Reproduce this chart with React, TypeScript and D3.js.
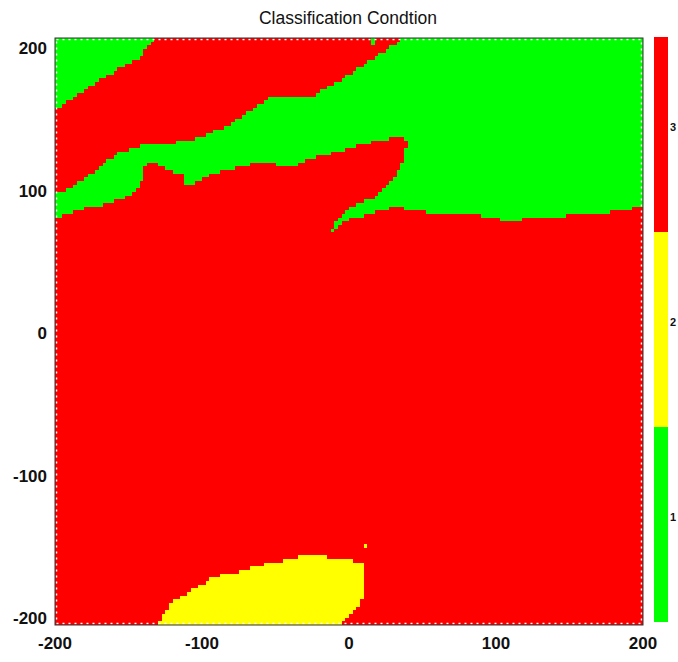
import { useMemo } from "react";
import * as d3 from "d3";

// class codes shown on the colorbar, bottom to top
const classes = [1, 2, 3];
const classColors = ["#00ff00", "#ffff00", "#ff0000"];
const xTicks = [-200, -100, 0, 100, 200];
const yTicks = [-200, -100, 0, 100, 200];

// background class of the whole field, and the grid step of the map (data units)
const baseClass = 3;
const cellSize = 2.5;

// region outlines in data units [x, y]
const greenCorner: [number, number][] = [
  [-200, 200], [-131, 200], [-141, 189], [-142, 186], [-158, 178],
  [-176, 167], [-190, 157], [-195, 154], [-200, 152],
];

const greenBand: [number, number][] = [
  [35, 200], [200, 200], [200, 86], [191, 83], [176, 81], [152, 79],
  [130, 78], [108, 75], [89, 79], [76, 81], [69, 79], [55, 81], [44, 82],
  [33, 85], [21, 82], [10, 79], [1, 77], [-6, 73], [-11, 68], [-15, 64],
  [-11, 71], [-6, 78], [1, 84], [9, 88], [18, 92], [24, 97], [30, 103],
  [33, 109], [37, 117], [40, 129], [36, 133], [26, 131], [21, 130],
  [5, 126], [-6, 123], [-22, 119], [-35, 114], [-40, 112], [-61, 116],
  [-74, 112], [-86, 109], [-99, 105], [-106, 100], [-112, 99], [-113, 107],
  [-120, 109], [-129, 113], [-137, 116], [-140, 112], [-141, 103],
  [-144, 96], [-151, 92], [-163, 87], [-178, 85], [-190, 80], [-200, 77],
  [-200, 94], [-195, 95], [-181, 103], [-169, 112], [-158, 121],
  [-144, 126], [-124, 128], [-108, 130], [-90, 137], [-81, 141],
  [-67, 150], [-61, 154], [-52, 160], [-22, 160], [-20, 164], [1, 175],
  [16, 186], [35, 198],
];

const greenNotch: [number, number][] = [
  [15, 200], [18, 200], [18, 195], [15, 195],
];

const yellowPatch: [number, number][] = [
  [-135, -200], [-131, -199], [-124, -191], [-120, -184], [-113, -180],
  [-103, -174], [-95, -169], [-83, -165], [-72, -163], [-59, -159],
  [-45, -156], [-29, -152], [-13, -154], [1, -156], [10, -159],
  [11, -169], [9, -183], [5, -190], [-1, -195], [-6, -200],
];

const yellowDot: [number, number][] = [
  [10, -145], [12, -145], [12, -147.5], [10, -147.5],
];

const regions = [
  { cls: 1, pts: greenCorner },
  { cls: 1, pts: greenBand },
  { cls: 1, pts: greenNotch },
  { cls: 2, pts: yellowPatch },
  { cls: 2, pts: yellowDot },
];

// sample the outlines on the map grid and merge equal cells into row runs
function buildRuns() {
  const n = Math.round(400 / cellSize);
  const runs: { x0: number; x1: number; y0: number; y1: number; cls: number }[] = [];
  for (let j = 0; j < n; j++) {
    const y1 = 200 - j * cellSize;
    const y0 = y1 - cellSize;
    const yc = (y0 + y1) / 2;
    let cur = -1;
    let start = -200;
    for (let i = 0; i <= n; i++) {
      let cls = -1;
      if (i < n) {
        const xc = -200 + (i + 0.5) * cellSize;
        cls = baseClass;
        for (const r of regions) {
          if (d3.polygonContains(r.pts, [xc, yc])) cls = r.cls;
        }
      }
      if (cls !== cur) {
        const xs = -200 + i * cellSize;
        if (cur !== -1 && cur !== baseClass) {
          runs.push({ x0: start, x1: xs, y0, y1, cls: cur });
        }
        cur = cls;
        start = xs;
      }
    }
  }
  return runs;
}

export default function App() {
  const width = 678;
  const height = 662;
  const left = 55;
  const right = 643;
  const top = 38;
  const bottom = 625;

  const x = d3.scaleLinear().domain([-200, 200]).range([left, right]);
  const y = d3.scaleLinear().domain([-200, 200]).range([bottom, top]);
  // tick labels of the source sit slightly inside the frame
  const yLabel = d3.scaleLinear().domain([-200, 200]).range([620, 50]);
  const color = d3.scaleOrdinal<number, string>().domain(classes).range(classColors);

  const bar = d3
    .scaleBand<number>()
    .domain([...classes].reverse())
    .range([37, 622]);

  const runs = useMemo(buildRuns, []);

  const font = "'Liberation Sans', Arial, Helvetica, sans-serif";

  return (
    <svg
      width={width}
      height={height}
      style={{ position: "absolute", left: 0, top: 0, background: "#fff" }}
    >
      <text
        x={348}
        y={24}
        textAnchor="middle"
        fontFamily={font}
        fontSize={17.5}
        fill="#111"
      >
        Classification Condtion
      </text>

      <rect
        x={x(-200)}
        y={y(200)}
        width={x(200) - x(-200)}
        height={y(-200) - y(200)}
        fill={color(baseClass)}
      />
      <g shapeRendering="crispEdges">
        {runs.map((r, i) => (
          <rect
            key={i}
            x={x(r.x0)}
            y={y(r.y1)}
            width={x(r.x1) - x(r.x0)}
            height={y(r.y0) - y(r.y1)}
            fill={color(r.cls)}
          />
        ))}
      </g>

      <rect
        x={x(-200) + 1.5}
        y={y(200) + 1.5}
        width={x(200) - x(-200) - 3}
        height={y(-200) - y(200) - 3}
        fill="none"
        stroke="#fff"
        strokeWidth={1.5}
        strokeDasharray="2,4"
      />
      <rect
        x={x(-200)}
        y={y(200)}
        width={x(200) - x(-200)}
        height={y(-200) - y(200)}
        fill="none"
        stroke="#333"
        strokeWidth={1}
      />

      {xTicks.map((t) => (
        <text
          key={"x" + t}
          x={x(t)}
          y={649}
          textAnchor="middle"
          fontFamily={font}
          fontWeight="bold"
          fontSize={17}
          fill="#111"
        >
          {t}
        </text>
      ))}
      {yTicks.map((t) => (
        <text
          key={"y" + t}
          x={left - 8}
          y={yLabel(t)}
          textAnchor="end"
          dominantBaseline="middle"
          fontFamily={font}
          fontWeight="bold"
          fontSize={17}
          fill="#111"
        >
          {t}
        </text>
      ))}

      {classes.map((c) => (
        <g key={"c" + c}>
          <rect
            x={654}
            y={bar(c)}
            width={14}
            height={bar.bandwidth()}
            fill={color(c)}
          />
          <text
            x={670}
            y={(bar(c) ?? 0) + bar.bandwidth() / 2 - 6}
            dominantBaseline="middle"
            fontFamily={font}
            fontWeight="bold"
            fontSize={11}
            fill="#111"
          >
            {c}
          </text>
        </g>
      ))}
    </svg>
  );
}
